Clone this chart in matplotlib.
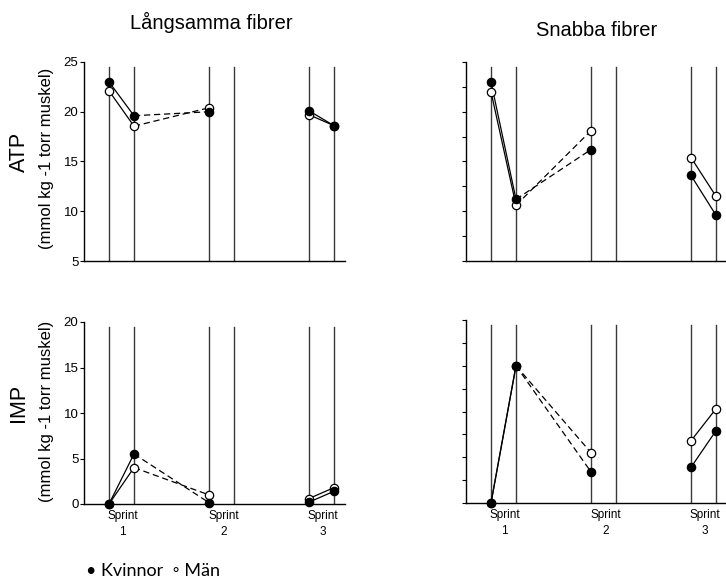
import matplotlib
matplotlib.use("Agg")
import matplotlib.pyplot as plt

plt.rcParams['font.family'] = ['Liberation Sans', 'DejaVu Sans']

# x positions (time points): pre/post of sprint 1, pre sprint 2, pre/post sprint 3
x_pts = [1, 2, 5, 9, 10]
vlines = [1, 2, 5, 6, 9, 10]
sprint_pos = [1.55, 5.6, 9.55]
sprint_labels = ["Sprint\n1", "Sprint\n2", "Sprint\n3"]

atp_slow_k = [23.0, 19.6, 20.0, 20.1, 18.6]
atp_slow_m = [22.1, 18.55, 20.4, 19.7, 18.6]
atp_fast_k = [23.0, 11.2, 16.2, 13.6, 9.6]
atp_fast_m = [22.0, 10.6, 18.1, 15.4, 11.5]
imp_slow_k = [0.0, 5.5, 0.15, 0.2, 1.4]
imp_slow_m = [0.0, 4.0, 1.0, 0.6, 1.8]
imp_fast_k = [0.0, 15.0, 3.4, 3.9, 7.9]
imp_fast_m = [0.0, 15.0, 5.5, 6.8, 10.3]

W, H = 726, 583
fig = plt.figure(figsize=(W / 100, H / 100), dpi=100)


def make_ax(left, top, bottom, width=261):
    return fig.add_axes([left / W, (H - bottom) / H, width / W, (bottom - top) / H])


def draw(ax, k, m, ylim, yticks, labels):
    ax.set_xlim(0, 10.44)
    ax.set_ylim(*ylim)
    for v in vlines:
        ax.axvline(v, ymin=0, ymax=0.975, color='#3a3a3a', lw=1.0, zorder=1)
    for series, face in ((m, 'white'), (k, 'black')):
        # solid within sprints, dashed between sprint 1 post and sprint 2 pre
        ax.plot(x_pts[0:2], series[0:2], color='black', lw=0.9, zorder=2)
        ax.plot(x_pts[1:3], series[1:3], color='black', lw=0.9, ls=(0, (5, 3)), zorder=2)
        ax.plot(x_pts[3:5], series[3:5], color='black', lw=0.9, zorder=2)
        ax.plot(x_pts, series, ls='none', marker='o', ms=6, mfc=face, mec='black',
                mew=0.9, zorder=3, clip_on=False)
    for s in ('top', 'right'):
        ax.spines[s].set_visible(False)
    ax.spines['left'].set_linewidth(1.0)
    ax.spines['bottom'].set_linewidth(1.0)
    ax.set_yticks(yticks)
    ax.tick_params(axis='y', direction='out', length=3, width=0.8, labelsize=9.5, pad=1)
    if not labels:
        ax.set_yticklabels([])


ax1 = make_ax(84, 62, 261)
draw(ax1, atp_slow_k, atp_slow_m, (5, 25), [5, 10, 15, 20, 25], True)
ax2 = make_ax(466, 62, 261)
draw(ax2, atp_fast_k, atp_fast_m, (5, 25), [5 + 2.5 * i for i in range(9)], False)
ax3 = make_ax(84, 322, 504)
draw(ax3, imp_slow_k, imp_slow_m, (0, 20), [0, 5, 10, 15, 20], True)
ax4 = make_ax(466, 320, 503)
draw(ax4, imp_fast_k, imp_fast_m, (0, 20), [2.5 * i for i in range(9)], False)

for ax in (ax1, ax2):
    ax.set_xticks([])
for ax in (ax3, ax4):
    ax.set_xticks(sprint_pos)
    ax.set_xticklabels(sprint_labels, fontsize=8.5, linespacing=1.45)
    ax.tick_params(axis='x', length=0, pad=4)

fig.text(211 / W, 1 - 22 / H, "Långsamma fibrer", ha='center', va='center', fontsize=14.5)
fig.text(597 / W, 1 - 30 / H, "Snabba fibrer", ha='center', va='center', fontsize=14.5)

fig.text(19 / W, 1 - 152 / H, "ATP", rotation=90, ha='center', va='center', fontsize=15.5)
fig.text(47 / W, 1 - 158 / H, "(mmol kg -1 torr muskel)", rotation=90, ha='center',
         va='center', fontsize=12)
fig.text(19 / W, 1 - 403 / H, "IMP", rotation=90, ha='center', va='center', fontsize=15.5)
fig.text(47 / W, 1 - 411 / H, "(mmol kg -1 torr muskel)", rotation=90, ha='center',
         va='center', fontsize=12)

fig.text(86 / W, 1 - 571 / H, "• Kvinnor  ◦ Män", ha='left', va='center', fontsize=13,
         family=['Lato', 'DejaVu Sans'])

fig.savefig("out.png", dpi=100)
